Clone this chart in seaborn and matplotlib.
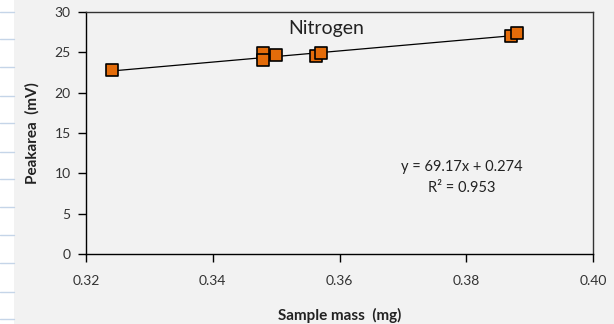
import numpy as np
import pandas as pd
import seaborn as sns
import matplotlib.pyplot as plt
from matplotlib.lines import Line2D
from matplotlib.patches import Rectangle

# sample mass (mg) and peak area (mV)
mass = [0.3241, 0.3479, 0.3479, 0.3500, 0.3563, 0.3570, 0.3870, 0.3880]
peak = [22.8, 24.9, 24.0, 24.7, 24.6, 24.9, 27.0, 27.4]

slope = 69.17
intercept = 0.274
r2 = 0.953

df = pd.DataFrame({"mass": mass, "peak": peak})

sns.set_style("ticks")
plt.rcParams["font.family"] = ["Lato", "DejaVu Sans"]

bg = "#f2f2f2"
fig = plt.figure(figsize=(6.14, 3.24), dpi=100, facecolor=bg)
ax = fig.add_axes([0.140, 0.216, 0.826, 0.747])
ax.set_facecolor(bg)

# spreadsheet strip on the left edge
fig.add_artist(Rectangle((0, 0), 14 / 614, 1, transform=fig.transFigure,
                         facecolor="white", edgecolor="none", zorder=0))
for yp in [12, 39, 67, 96, 123, 152, 179, 207, 235, 263, 292, 319]:
    yy = 1 - yp / 324
    fig.add_artist(Line2D([0, 14 / 614], [yy, yy], transform=fig.transFigure,
                          color="#c5d5e8", lw=1))

# trendline over the data range
xs = np.array([min(mass), max(mass)])
sns.lineplot(x=xs, y=slope * xs + intercept, ax=ax, color="black", lw=0.9, zorder=2)

sns.scatterplot(data=df, x="mass", y="peak", ax=ax, marker="s", s=75,
                color="#e46c0a", edgecolor="black", linewidth=1.2, zorder=3)

ax.set_xlim(0.32, 0.40)
ax.set_ylim(0, 30)
ax.set_xticks([0.32, 0.34, 0.36, 0.38, 0.40])
ax.set_xticklabels(["0.32", "0.34", "0.36", "0.38", "0.40"])
ax.set_yticks(range(0, 31, 5))

for s in ax.spines.values():
    s.set_color("#333333")
    s.set_linewidth(1.0)
ax.spines["left"].set_color("black")
ax.spines["bottom"].set_color("black")

ax.tick_params(axis="both", colors="black", labelcolor="#333333", labelsize=10,
               length=6, width=1)
ax.tick_params(axis="x", pad=9)
ax.tick_params(axis="y", pad=5)

ax.set_xlabel("Sample mass  (mg)", fontsize=11, fontweight="bold", color="#222222", labelpad=15)
ax.set_ylabel("Peakarea  (mV)", fontsize=11, fontweight="bold", color="#222222", labelpad=11)

ax.text(0.3579, 28.0, "Nitrogen", fontsize=14, color="#222222", ha="center", va="center")
ax.text(0.3793, 10.8, f"y = {slope}x + {intercept}", fontsize=10.5, color="#222222",
        ha="center", va="center")
ax.text(0.3793, 8.2, f"R² = {r2}", fontsize=10.5, color="#222222",
        ha="center", va="center")

fig.savefig("out.png", dpi=100, facecolor=bg)
